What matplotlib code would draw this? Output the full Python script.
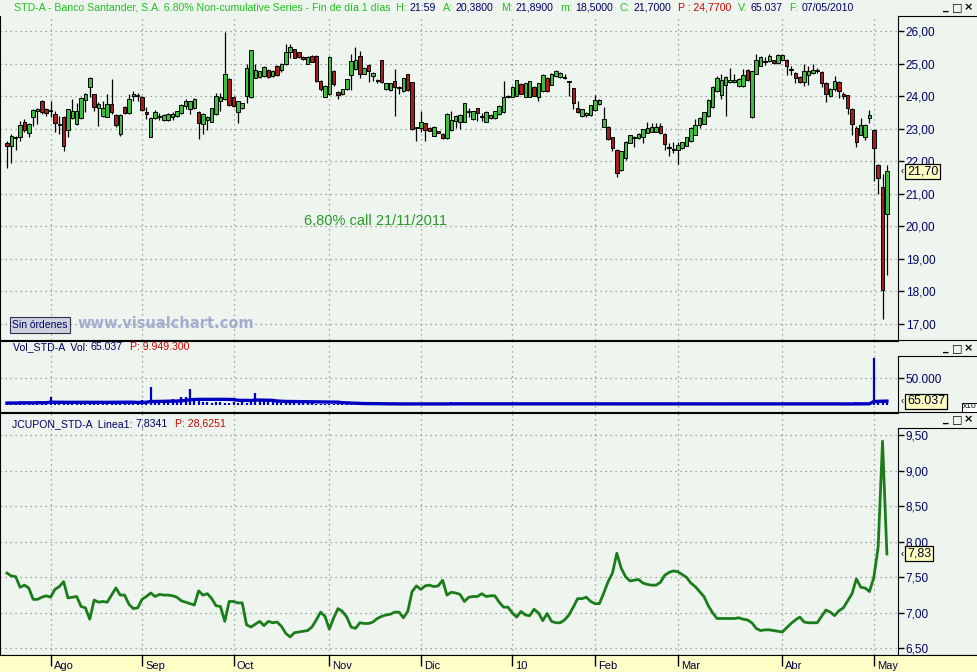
import numpy as np
import matplotlib
matplotlib.use('Agg')
import matplotlib.pyplot as plt
import pandas as pd
from matplotlib.transforms import blended_transform_factory

plt.rcParams['font.family'] = ['Liberation Sans', 'DejaVu Sans']

# ---- daily candles STD-A (20/07/2009 .. 07/05/2010) ----
opens = [22.55, 22.48, 22.70, 22.76, 23.22, 22.86, 23.35, 23.53, 23.86, 23.62,
         23.53, 23.45, 23.10, 23.37, 22.96, 23.33, 23.14, 23.33, 23.89, 24.27,
         24.06, 23.63, 23.40, 23.37, 23.76, 23.43, 22.84, 23.67, 23.47, 24.00,
         24.00, 23.98, 23.52, 22.76, 23.33, 23.37, 23.27, 23.27, 23.37, 23.39,
         23.47, 23.69, 23.60, 23.63, 23.52, 23.14, 23.27, 23.22, 23.45, 23.86,
         23.91, 24.52, 23.98, 23.50, 23.63, 24.01, 23.96, 24.57, 24.59, 24.62,
         24.80, 24.62, 24.93, 24.80, 24.98, 25.36, 25.44, 25.34, 25.20, 25.00,
         25.23, 25.23, 24.47, 23.98, 24.06, 24.78, 24.14, 24.06, 24.21, 24.65,
         24.83, 25.23, 24.69, 24.96, 24.62, 24.47, 25.10, 24.21, 24.18, 24.47,
         24.24, 24.16, 24.67, 24.42, 23.02, 23.02, 23.16, 23.02, 22.79, 22.92,
         22.84, 22.71, 22.96, 23.24, 23.20, 23.22, 23.51, 23.30, 23.63, 23.37,
         23.22, 23.33, 23.33, 23.45, 23.50, 23.98, 23.98, 24.01, 24.37, 23.98,
         23.98, 24.29, 23.96, 24.16, 24.57, 24.35, 24.62, 24.59, 24.56, 24.42,
         24.24, 23.65, 23.39, 23.42, 23.42, 23.57, 23.75, 23.06, 23.06, 22.73,
         22.35, 21.73, 22.09, 22.57, 22.72, 22.70, 22.76, 22.88, 22.91, 22.91,
         23.08, 22.84, 22.42, 22.38, 22.35, 22.41, 22.48, 22.61, 22.82, 23.12,
         23.15, 23.38, 23.67, 24.15, 24.05, 24.35, 24.43, 24.43, 24.30, 24.30,
         24.79, 23.36, 24.69, 24.94, 25.07, 25.07, 25.10, 25.02, 25.10, 25.12,
         24.80, 24.71, 24.59, 24.43, 24.66, 24.71, 24.77, 24.75, 24.41, 24.00,
         24.22, 24.43, 24.08, 24.02, 23.61, 23.02, 22.82, 22.74, 23.33, 22.97,
         21.89, 21.20, 20.38]
highs = [22.62, 22.85, 22.78, 23.24, 23.30, 23.16, 23.60, 23.63, 23.88, 23.65,
         23.86, 23.55, 23.40, 23.40, 23.62, 23.91, 23.80, 23.96, 24.10, 24.59,
         24.08, 23.81, 23.86, 24.06, 24.52, 23.45, 23.45, 23.69, 24.06, 24.16,
         24.11, 24.00, 23.67, 23.35, 23.57, 23.47, 23.45, 23.47, 23.50, 23.55,
         23.75, 23.91, 23.86, 23.93, 23.55, 23.47, 23.40, 23.65, 24.11, 24.11,
         25.97, 24.55, 24.00, 23.86, 23.80, 24.98, 25.43, 24.98, 24.78, 24.92,
         24.82, 24.80, 24.95, 25.02, 25.59, 25.59, 25.46, 25.36, 25.22, 25.22,
         25.25, 25.25, 24.49, 24.34, 25.22, 24.80, 24.16, 24.23, 24.54, 25.29,
         25.51, 25.39, 24.88, 24.98, 24.74, 24.52, 25.12, 24.41, 24.41, 24.83,
         24.32, 24.57, 24.69, 24.44, 23.05, 23.55, 23.18, 23.04, 23.08, 22.94,
         22.86, 23.47, 23.55, 23.41, 23.45, 23.80, 23.65, 23.55, 23.65, 23.47,
         23.54, 23.45, 23.55, 23.72, 24.47, 24.02, 24.31, 24.51, 24.39, 24.41,
         24.47, 24.31, 24.41, 24.67, 24.60, 24.71, 24.81, 24.74, 24.69, 24.47,
         24.26, 23.85, 23.61, 23.51, 23.74, 24.04, 23.90, 23.68, 23.08, 22.75,
         22.37, 22.32, 22.62, 22.82, 22.78, 22.86, 23.00, 23.21, 23.16, 23.16,
         23.18, 22.86, 22.56, 22.58, 22.60, 22.60, 22.76, 23.04, 23.30, 23.35,
         23.52, 23.91, 24.30, 24.61, 24.69, 24.61, 24.87, 24.67, 24.55, 24.84,
         24.84, 24.78, 25.28, 25.22, 25.20, 25.28, 25.12, 25.28, 25.29, 25.14,
         24.94, 24.73, 24.61, 24.99, 24.94, 24.98, 24.87, 24.77, 24.43, 24.24,
         24.63, 24.45, 24.12, 24.04, 23.63, 23.07, 23.33, 23.14, 23.58, 22.99,
         21.91, 21.61, 21.89]
lows = [21.80, 21.95, 22.35, 22.63, 22.89, 22.76, 23.09, 23.14, 23.45, 23.40,
        23.35, 22.89, 22.84, 22.30, 22.73, 23.30, 23.12, 23.30, 23.50, 23.96,
        23.55, 23.09, 23.35, 23.35, 23.45, 23.04, 22.79, 23.45, 23.45, 23.86,
        23.86, 23.55, 23.30, 22.74, 23.30, 23.27, 23.25, 23.25, 23.27, 23.37,
        23.45, 23.60, 23.45, 23.60, 22.68, 22.84, 22.96, 23.20, 23.43, 23.55,
        23.88, 23.70, 23.68, 23.19, 23.60, 23.80, 23.94, 24.55, 24.57, 24.60,
        24.57, 24.60, 24.63, 24.75, 24.96, 25.18, 25.16, 25.18, 25.11, 24.98,
        25.04, 24.43, 24.15, 23.96, 24.04, 24.30, 23.91, 24.04, 24.19, 24.18,
        24.81, 24.57, 24.67, 24.42, 24.47, 24.40, 24.40, 24.19, 24.16, 23.40,
        24.06, 24.14, 24.16, 22.97, 22.63, 22.89, 22.63, 22.92, 22.77, 22.86,
        22.69, 22.69, 22.94, 23.02, 23.00, 23.20, 23.35, 23.28, 23.25, 23.25,
        23.20, 23.31, 23.31, 23.43, 23.48, 23.94, 23.96, 23.99, 24.06, 23.96,
        23.96, 23.99, 23.86, 24.14, 24.14, 24.33, 24.60, 24.57, 24.52, 24.01,
        23.60, 23.48, 23.37, 23.35, 23.40, 23.55, 23.73, 23.04, 22.65, 22.30,
        21.51, 21.71, 22.04, 22.55, 22.43, 22.68, 22.57, 22.86, 22.89, 22.89,
        22.84, 22.35, 22.17, 22.25, 21.92, 22.39, 22.46, 22.59, 22.80, 23.02,
        23.13, 23.36, 23.65, 24.12, 23.90, 23.38, 24.40, 24.41, 24.28, 24.28,
        24.47, 23.34, 24.67, 24.92, 24.97, 25.05, 25.00, 25.00, 25.08, 24.64,
        24.65, 24.40, 24.41, 24.31, 24.35, 24.69, 24.71, 24.28, 23.82, 23.98,
        24.15, 23.95, 23.90, 23.44, 22.82, 22.44, 22.80, 22.66, 23.18, 21.38,
        21.00, 17.14, 18.50]
closes = [22.46, 22.78, 22.76, 23.11, 22.96, 23.14, 23.58, 23.61, 23.50, 23.47,
          23.53, 23.16, 23.10, 22.48, 23.60, 23.53, 23.53, 23.94, 24.08, 24.57,
          23.67, 23.76, 23.65, 23.76, 23.50, 23.10, 23.43, 23.47, 23.90, 24.08,
          24.00, 23.57, 23.45, 23.33, 23.52, 23.37, 23.42, 23.45, 23.45, 23.53,
          23.73, 23.84, 23.84, 23.91, 23.19, 23.45, 23.37, 23.63, 24.01, 23.96,
          24.69, 23.73, 23.70, 23.84, 23.78, 24.86, 25.41, 24.80, 24.76, 24.90,
          24.59, 24.78, 24.65, 25.00, 25.34, 25.51, 25.18, 25.20, 25.13, 25.20,
          25.06, 24.45, 24.21, 24.32, 25.20, 24.37, 24.04, 24.21, 24.52, 25.08,
          25.10, 24.69, 24.86, 24.76, 24.72, 24.47, 24.42, 24.39, 24.39, 24.27,
          24.24, 24.55, 24.18, 22.99, 23.02, 23.22, 22.96, 22.94, 23.06, 22.88,
          22.71, 23.45, 23.27, 23.39, 23.43, 23.78, 23.51, 23.53, 23.48, 23.37,
          23.52, 23.43, 23.53, 23.70, 23.98, 23.98, 24.29, 24.49, 24.08, 24.39,
          24.45, 24.01, 24.39, 24.65, 24.16, 24.69, 24.78, 24.72, 24.56, 24.42,
          23.80, 23.50, 23.59, 23.49, 23.72, 23.88, 23.88, 23.29, 22.67, 22.40,
          21.65, 22.30, 22.60, 22.80, 22.74, 22.84, 22.98, 23.01, 23.04, 23.06,
          22.86, 22.53, 22.40, 22.36, 22.51, 22.58, 22.74, 23.02, 23.12, 23.33,
          23.50, 23.89, 24.28, 24.56, 24.51, 24.59, 24.51, 24.51, 24.53, 24.66,
          24.49, 24.76, 25.12, 25.20, 25.06, 25.22, 25.02, 25.25, 25.27, 24.92,
          24.79, 24.56, 24.43, 24.76, 24.76, 24.79, 24.76, 24.41, 24.08, 24.22,
          24.46, 24.15, 24.00, 23.64, 23.15, 22.58, 23.12, 23.12, 23.43, 22.41,
          21.48, 18.05, 21.70]

# volume (shares), shown on a x10 scale
volume = [35000, 40000, 30000, 60000, 35000, 45000, 30000, 75000, 40000, 35000,
          150000, 40000, 35000, 50000, 60000, 35000, 40000, 45000, 70000, 40000,
          35000, 40000, 30000, 45000, 60000, 70000, 35000, 55000, 60000, 40000, 50000,
          90000, 70000, 330000, 60000, 80000, 75000, 60000, 110000, 70000, 150000,
          155000, 300000, 120000, 110000, 60000, 50000, 45000, 60000, 55000, 40000,
          45000, 55000, 40000, 50000, 45000, 60000, 220000, 90000, 80000, 85000, 95000, 70000,
          40000, 35000, 40000, 35000, 40000, 30000, 35000, 30000,
          25000, 20000, 22000, 18000, 20000, 24000, 19000, 21000, 18000, 20000,
          22000, 18000, 20000, 19000, 21000, 17000, 20000, 18000, 22000, 19000,
          20000, 18000, 21000, 19000, 24000, 20000, 18000, 19000, 21000, 18000,
          20000, 60000, 22000, 18000, 19000, 20000, 18000, 21000, 19000, 20000,
          18000, 20000, 19000, 21000, 18000, 20000, 19000, 22000, 18000, 20000,
          19000, 21000, 18000, 20000, 19000, 20000, 18000, 21000, 19000, 20000,
          18000, 22000, 19000, 20000, 18000, 21000, 19000, 20000, 24000, 21000,
          26000, 20000, 19000, 21000, 18000, 20000, 19000, 21000, 18000, 20000,
          19000, 20000, 18000, 21000, 19000, 20000, 22000, 18000, 20000, 19000,
          21000, 18000, 20000, 19000, 20000, 21000, 18000, 20000, 19000, 21000,
          22000, 30000, 20000, 19000, 21000, 18000, 20000, 19000, 21000, 18000,
          20000, 19000, 21000, 18000, 20000, 19000, 20000, 21000, 18000, 22000,
          20000, 19000, 21000, 22000, 50000, 24000, 26000, 28000, 870000, 70000,
          75000, 65037]

# JCUPON indicator (Linea1)
jcupon = [7.56, 7.52, 7.51, 7.36, 7.39, 7.35, 7.19, 7.19, 7.22, 7.24,
          7.22, 7.33, 7.37, 7.44, 7.21, 7.22, 7.23, 7.09, 7.07, 6.91,
          7.18, 7.15, 7.16, 7.15, 7.25, 7.35, 7.25, 7.25, 7.12, 7.06,
          7.07, 7.19, 7.23, 7.28, 7.23, 7.26, 7.25, 7.25, 7.24, 7.22,
          7.17, 7.15, 7.13, 7.11, 7.31, 7.25, 7.27, 7.20, 7.10, 7.09,
          6.88, 7.16, 7.16, 7.14, 7.14, 6.83, 6.80, 6.84, 6.88, 6.82,
          6.88, 6.86, 6.87, 6.81, 6.71, 6.66, 6.72, 6.73, 6.74, 6.75,
          6.80, 6.90, 7.01, 6.95, 6.77, 6.93, 7.06, 7.02, 6.94, 6.80,
          6.78, 6.86, 6.85, 6.85, 6.87, 6.92, 6.95, 6.97, 6.98, 7.01,
          7.01, 6.93, 7.02, 7.30, 7.38, 7.33, 7.38, 7.39, 7.37, 7.38,
          7.46, 7.25, 7.29, 7.28, 7.26, 7.16, 7.22, 7.23, 7.23, 7.27,
          7.23, 7.24, 7.24, 7.15, 7.08, 7.08, 7.00, 6.94, 7.02, 6.97,
          6.96, 7.05, 7.00, 6.89, 6.99, 6.88, 6.86, 6.86, 6.90, 6.97,
          7.08, 7.20, 7.20, 7.22, 7.16, 7.13, 7.13, 7.28, 7.44, 7.56,
          7.84, 7.63, 7.51, 7.45, 7.46, 7.47, 7.42, 7.40, 7.39, 7.39,
          7.43, 7.53, 7.57, 7.59, 7.58, 7.54, 7.50, 7.42, 7.37, 7.30,
          7.23, 7.10, 7.00, 6.92, 6.92, 6.92, 6.92, 6.92, 6.93, 6.91,
          6.90, 6.86, 6.78, 6.75, 6.76, 6.76, 6.75, 6.74, 6.73, 6.79,
          6.85, 6.90, 6.94, 6.87, 6.86, 6.86, 6.86, 6.95, 7.04, 7.01,
          6.96, 7.03, 7.07, 7.17, 7.27, 7.48, 7.36, 7.35, 7.30, 7.50,
          7.93, 9.42, 7.83]

month_labels = ['Ago', 'Sep', 'Oct', 'Nov', 'Dic', '10', 'Feb', 'Mar', 'Abr', 'May']
month_pos = [10, 31, 52, 74, 95, 116, 135, 154, 178, 199]
price_ticks = [17, 18, 19, 20, 21, 22, 23, 24, 25, 26]
jc_ticks = [6.5, 7.0, 7.5, 8.0, 8.5, 9.0, 9.5]
vol_ticks = [50000]

BG = '#eef5ee'
NAVY = '#000066'
GREEN_TXT = '#22c022'
RED_TXT = '#d00000'
UP = '#3cbf3c'
DOWN = '#a81c1c'
VOLC = '#0000c0'
GRID = dict(color='#8a8a8a', linestyle=(0, (1, 3)), linewidth=0.9)

W, H = 978, 672
fig = plt.figure(figsize=(W / 100, H / 100), dpi=100, facecolor=BG)


def px_axes(x0, y0, x1, y1, **kw):
    return fig.add_axes([x0 / W, 1 - y1 / H, (x1 - x0) / W, (y1 - y0) / H], **kw)


XLIM = (-1.607, 204.55)


def panel(y0, y1, ylim):
    ax = px_axes(0, y0, 898, y1, facecolor=BG)
    ax.set_xlim(*XLIM)
    ax.set_ylim(*ylim)
    ax.set_xticks(month_pos)
    ax.tick_params(axis='x', length=0, labelbottom=False)
    ax.yaxis.tick_right()
    ax.tick_params(axis='y', direction='out', length=4, width=1, pad=1.5,
                   labelsize=8.5, labelcolor=NAVY)
    ax.grid(True, **GRID)
    ax.set_axisbelow(True)
    ax.spines['right'].set_visible(False)
    for s in ['top', 'bottom', 'left']:
        ax.spines[s].set_color('black')
    return ax


def right_box(y0, y1):
    b = px_axes(898, y0, 978, y1, facecolor='none')
    b.set_xticks([])
    b.set_yticks([])
    b.spines['right'].set_visible(False)
    return b


def value_tag(ax, y, s):
    tr = blended_transform_factory(ax.transAxes, ax.transData)
    ax.text(907 / 898, y, s, transform=tr, fontsize=9, color='#000030',
            va='center', ha='left', clip_on=False, zorder=10,
            bbox=dict(boxstyle='square,pad=0.12', fc='#ffffc0', ec='black', lw=0.9))
    ax.text(900.5 / 898, y, '‹', transform=tr, fontsize=7, color='black',
            va='center', ha='left', clip_on=False, zorder=10)


# ---- price panel ----
axp = panel(16, 340, (16.51, 26.461))
x = np.arange(len(closes))
o = np.array(opens)
c = np.array(closes)
axp.vlines(x, lows, highs, color='black', linewidth=0.9, zorder=2)
body_col = [UP if cc >= oo else DOWN for oo, cc in zip(o, c)]
axp.bar(x, np.maximum(np.abs(c - o), 0.03), bottom=np.minimum(o, c), width=0.8,
        color=body_col, edgecolor='black', linewidth=0.7, zorder=3)
axp.set_yticks(price_ticks)
axp.set_yticklabels([f'{t:.2f}'.replace('.', ',') for t in price_ticks])
value_tag(axp, closes[-1], f'{closes[-1]:.2f}'.replace('.', ','))
axp.spines['top'].set_visible(False)
right_box(16, 340)

# ---- volume panel ----
axv = panel(341, 412, (-12964, 118528))
vd = np.array(volume) / 10
xv = np.arange(len(volume))
axv.vlines(xv, 0, vd, color=VOLC, linewidth=1.6)
axv.plot(xv, pd.Series(vd).rolling(20, min_periods=1).mean(), color=VOLC, linewidth=2.4)
axv.set_yticks(vol_ticks)
axv.set_yticklabels(['50.000'])
value_tag(axv, vd[-1], f'{volume[-1]:,}'.replace(',', '.'))
right_box(356, 412)

# ---- JCUPON panel ----
axj = panel(413, 655, (6.4055, 9.817))
axj.plot(np.arange(len(jcupon)), jcupon, color='#1a7d1a', linewidth=2)
axj.set_yticks(jc_ticks)
axj.set_yticklabels([f'{t:.2f}'.replace('.', ',') for t in jc_ticks])
value_tag(axj, jcupon[-1], f'{jcupon[-1]:.2f}'.replace('.', ','))
right_box(428, 655)

# ---- date strip ----
axs = px_axes(0, 655, 978, 672, facecolor='#ffffc8')
axs.set_xlim(XLIM[0], XLIM[0] + (XLIM[1] - XLIM[0]) * 978 / 898)
axs.set_ylim(0, 1)
axs.set_xticks(month_pos)
axs.set_yticks([])
axs.tick_params(axis='x', direction='in', length=8, width=1, top=True, bottom=False,
                labelbottom=False)
for s in ['bottom', 'left', 'right']:
    axs.spines[s].set_visible(False)
trs = blended_transform_factory(axs.transData, axs.transAxes)
for p, lab in zip(month_pos, month_labels):
    axs.annotate(lab, xy=(p, 0.36), xycoords=trs, xytext=(3, 0),
                 textcoords='offset pixels', fontsize=8, color='#000040',
                 va='center', ha='left')

# ---- overlay in pixel coordinates for captions ----
ov = fig.add_axes([0, 0, 1, 1], facecolor='none')
ov.set_xlim(0, W)
ov.set_ylim(H, 0)
ov.axis('off')


def header(x0, y0, parts, size=7.55):
    t = ov.text(x0, y0, parts[0][0], color=parts[0][1], fontsize=size,
                va='center', ha='left')
    for s, col, gap in parts[1:]:
        t = ov.annotate(s, xy=(1, 0.5), xycoords=t, xytext=(gap, 0),
                        textcoords='offset pixels', color=col, fontsize=size,
                        va='center', ha='left')


header(14, 8, [
    ('STD-A - Banco Santander, S.A. 6.80% Non-cumulative Series - Fin de día 1 días  H:', GREEN_TXT),
    ('21:59', NAVY, 3), ('A:', GREEN_TXT, 7), ('20,3800', NAVY, 3),
    ('M:', GREEN_TXT, 7), ('21,8900', NAVY, 3), ('m:', GREEN_TXT, 7), ('18,5000', NAVY, 3),
    ('C:', GREEN_TXT, 7), ('21,7000', NAVY, 3), ('P : 24,7700', RED_TXT, 7),
    ('V:', GREEN_TXT, 7), ('65.037', NAVY, 3), ('F:', GREEN_TXT, 7), ('07/05/2010', NAVY, 3)])
header(13, 347, [('Vol_STD-A  Vol:', NAVY), ('65.037', NAVY, 3), ('P: 9.949.300', RED_TXT, 7)])
header(12, 424, [('JCUPON_STD-A  Linea1:', NAVY), ('7,8341', NAVY, 3), ('P: 28,6251', RED_TXT, 7)])

for yb in [7, 348, 419]:
    for xb, g in zip([946, 957, 968], ['_', '□', '×']):
        ov.text(xb, yb, g, fontsize=8, fontweight='bold', color='black',
                family='DejaVu Sans', ha='center', va='center')

ov.text(375, 221, '6,80% call 21/11/2011', fontsize=10.5, color='#2a9a2a',
        ha='center', va='center')
ov.text(40, 325, 'Sin órdenes', fontsize=7.5, color=NAVY, ha='center', va='center',
        bbox=dict(boxstyle='square,pad=0.25', fc='#ccd3df', ec='#303050', lw=0.8))
ov.text(77, 324, 'www.visualchart.com', fontsize=10.5, fontweight='bold',
        color='#a2aed0', ha='left', va='center', family='DejaVu Sans')
ov.text(970, 407, 'x10', fontsize=6, color='black', ha='center', va='center',
        bbox=dict(boxstyle='square,pad=0.12', fc='white', ec='black', lw=0.7))

fig.savefig('out.png', dpi=100, facecolor=BG)
